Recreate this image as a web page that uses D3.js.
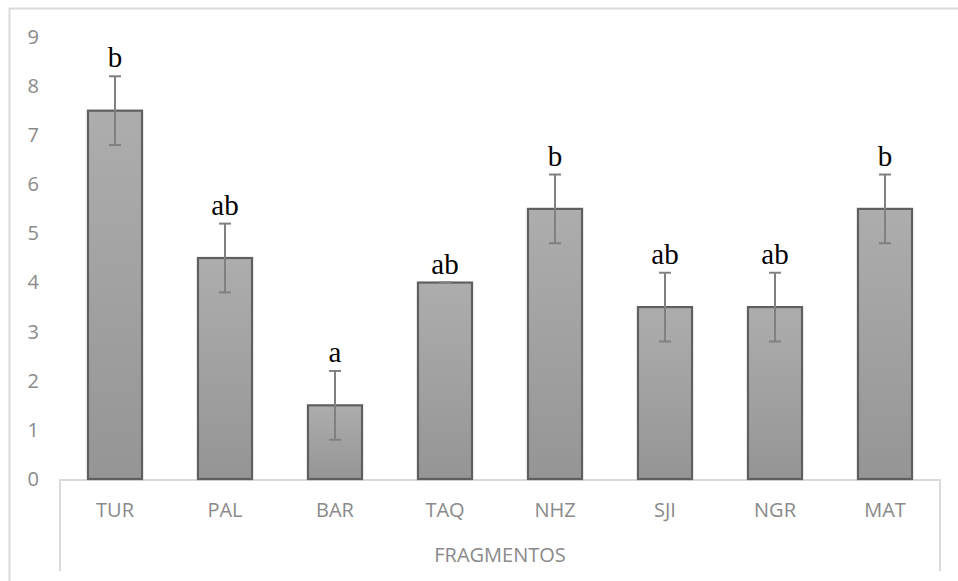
<!DOCTYPE html>
<html>
<head>
<meta charset="utf-8">
<script src="https://cdn.jsdelivr.net/npm/d3@7"></script>
<style>
  html, body { margin: 0; padding: 0; background: #fff; }
  svg { display: block; }
</style>
</head>
<body>
<svg id="chart" width="958" height="581"></svg>
<script>
// Fragment codes, mean values, error half-widths and significance letters
const categories = ["TUR", "PAL", "BAR", "TAQ", "NHZ", "SJI", "NGR", "MAT"];
const values = [7.5, 4.5, 1.5, 4.0, 5.5, 3.5, 3.5, 5.5];
const errors = [0.7, 0.7, 0.7, 0.0, 0.7, 0.7, 0.7, 0.7];
const letters = ["b", "ab", "a", "ab", "b", "ab", "ab", "b"];
const yTicks = [0, 1, 2, 3, 4, 5, 6, 7, 8, 9];
const axisTitle = "FRAGMENTOS";

const svg = d3.select("#chart");
const W = 958, H = 581;
const plot = { left: 60, right: 940, top: 37, bottom: 479 };
const sans = "'Open Sans', 'Liberation Sans', sans-serif";

const x = d3.scaleBand().domain(categories).range([plot.left, plot.right]).paddingInner(0.49).paddingOuter(0.245);
const y = d3.scaleLinear().domain([0, 9]).range([plot.bottom, plot.top]);

// Bar gradient
const defs = svg.append("defs");
const grad = defs.append("linearGradient").attr("id", "barGrad").attr("x1", 0).attr("y1", 0).attr("x2", 0).attr("y2", 1);
grad.append("stop").attr("offset", "0%").attr("stop-color", "#adadad");
grad.append("stop").attr("offset", "100%").attr("stop-color", "#959595");

// Chart frame (top and left edges)
const frame = "#d9d9d9";
svg.append("line").attr("x1", 9).attr("x2", W).attr("y1", 8.5).attr("y2", 8.5).attr("stroke", frame).attr("stroke-width", 2);
svg.append("line").attr("x1", 9.5).attr("x2", 9.5).attr("y1", 8).attr("y2", H).attr("stroke", frame).attr("stroke-width", 2);

// Y axis labels
const yAxis = d3.axisLeft(y).tickValues(yTicks).tickSize(0).tickPadding(0).tickFormat(d3.format("d"));
const gy = svg.append("g").attr("transform", `translate(39,0)`).call(yAxis);
gy.select(".domain").remove();
gy.selectAll("text")
  .attr("fill", "#8a8a8a")
  .style("font-family", sans)
  .style("font-size", "20px");

// Category box below the plot
const boxBottom = 571;
const box = svg.append("g").attr("stroke", frame).attr("stroke-width", 2).attr("fill", "none");
box.append("line").attr("x1", plot.left).attr("x2", plot.right).attr("y1", plot.bottom + 1).attr("y2", plot.bottom + 1);
box.append("line").attr("x1", plot.left).attr("x2", plot.left).attr("y1", plot.bottom).attr("y2", boxBottom);
box.append("line").attr("x1", plot.right).attr("x2", plot.right).attr("y1", plot.bottom).attr("y2", boxBottom);

// Category labels via bottom axis
const xAxis = d3.axisBottom(x).tickSize(0).tickPadding(0);
const gx = svg.append("g").attr("transform", `translate(0,${plot.bottom + 22})`).call(xAxis);
gx.select(".domain").remove();
gx.selectAll("text")
  .attr("fill", "#8a8a8a")
  .attr("dy", "0.35em")
  .attr("y", 9)
  .style("font-family", sans)
  .style("font-size", "20px");

svg.append("text")
  .attr("x", (plot.left + plot.right) / 2)
  .attr("y", 555)
  .attr("dy", "0.35em")
  .attr("text-anchor", "middle")
  .attr("fill", "#8a8a8a")
  .style("font-family", sans)
  .style("font-size", "20px")
  .text(axisTitle);

const data = categories.map((c, i) => ({ c, v: values[i], e: errors[i], l: letters[i] }));

// Bars
svg.append("g").selectAll("rect").data(data).join("rect")
  .attr("x", d => x(d.c) + 1)
  .attr("y", d => y(d.v))
  .attr("width", x.bandwidth() - 2)
  .attr("height", d => y(0) - y(d.v))
  .attr("fill", "url(#barGrad)")
  .attr("stroke", "#5f5f5f")
  .attr("stroke-width", 2.2);

// Error bars
const eb = svg.append("g").attr("stroke", "#808080").attr("stroke-width", 2);
const cx = d => x(d.c) + x.bandwidth() / 2;
const capW = 6;
eb.selectAll(".stem").data(data).join("line")
  .attr("x1", cx).attr("x2", cx)
  .attr("y1", d => y(d.v + d.e)).attr("y2", d => y(d.v - d.e));
eb.selectAll(".capTop").data(data).join("line")
  .attr("x1", d => cx(d) - capW).attr("x2", d => cx(d) + capW)
  .attr("y1", d => y(d.v + d.e)).attr("y2", d => y(d.v + d.e));
eb.selectAll(".capBot").data(data).join("line")
  .attr("x1", d => cx(d) - capW).attr("x2", d => cx(d) + capW)
  .attr("y1", d => y(d.v - d.e)).attr("y2", d => y(d.v - d.e));

// Significance letters
svg.append("g").selectAll("text").data(data).join("text")
  .attr("x", cx)
  .attr("y", d => y(d.v + d.e) - 9)
  .attr("text-anchor", "middle")
  .attr("fill", "#000")
  .style("font-family", "'Liberation Serif', 'Times New Roman', serif")
  .style("font-size", "29px")
  .text(d => d.l);
</script>
</body>
</html>
